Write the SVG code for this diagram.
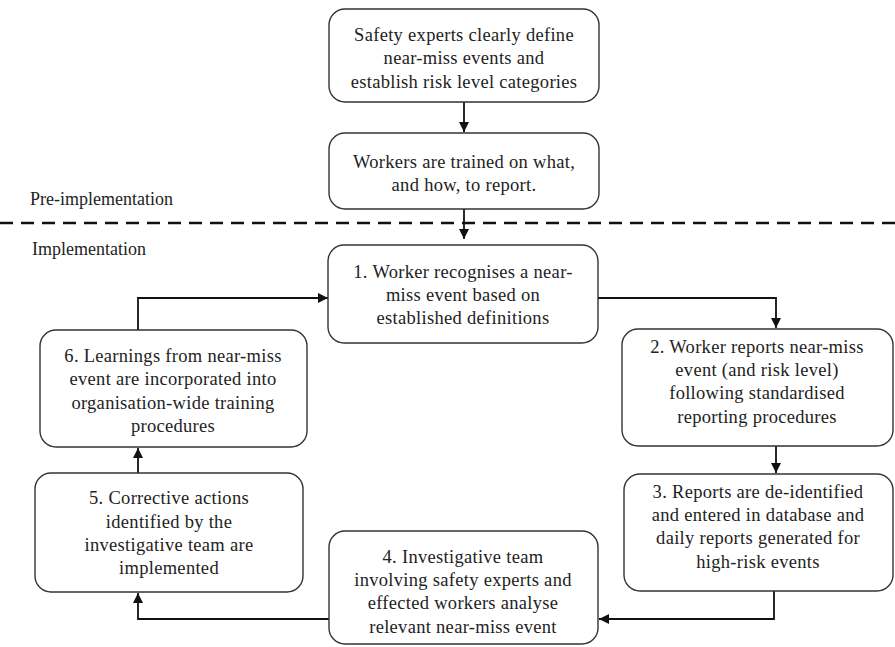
<svg xmlns="http://www.w3.org/2000/svg" width="895" height="647" viewBox="0 0 895 647">
<defs>
<style>
.box{fill:#fff;stroke:#333;stroke-width:1.4}
.t{font-family:"Liberation Serif","Times New Roman",serif;font-size:18.5px;letter-spacing:0.3px;fill:#222;text-anchor:middle}
.lbl{font-family:"Liberation Serif","Times New Roman",serif;font-size:18px;fill:#222}
.c{fill:none;stroke:#111;stroke-width:1.8}
</style>
<marker id="ah" viewBox="0 0 10 10" refX="10" refY="5" markerWidth="10" markerHeight="10" markerUnits="userSpaceOnUse" orient="auto">
<path d="M0,0 L10,5 L0,10 z" fill="#111"/>
</marker>
</defs>
<rect width="895" height="647" fill="#fff"/>
<line x1="0" y1="223" x2="895" y2="223" stroke="#111" stroke-width="2.5" stroke-dasharray="13 8"/>
<text class="lbl" x="30" y="205">Pre-implementation</text>
<text class="lbl" x="32" y="255">Implementation</text>
<g id="connectors">
<line class="c" x1="464" y1="102" x2="464" y2="132" marker-end="url(#ah)"/>
<line class="c" x1="464" y1="209" x2="464" y2="239" marker-end="url(#ah)"/>
<polyline class="c" points="598,298 776,298 776,328" marker-end="url(#ah)"/>
<line class="c" x1="776" y1="446" x2="776" y2="473" marker-end="url(#ah)"/>
<polyline class="c" points="774,591 774,619 599,619" marker-end="url(#ah)"/>
<polyline class="c" points="329,619 138,619 138,593" marker-end="url(#ah)"/>
<line class="c" x1="138" y1="473" x2="138" y2="448" marker-end="url(#ah)"/>
<polyline class="c" points="138,330 138,298 328,298" marker-end="url(#ah)"/>
</g>
<g id="nodeA">
<rect class="box" x="329" y="9" width="270" height="93" rx="16"/>
<text class="t" x="464" y="41">Safety experts clearly define</text>
<text class="t" x="464" y="64">near-miss events and</text>
<text class="t" x="464" y="88">establish risk level categories</text>
</g>
<g id="nodeB">
<rect class="box" x="329" y="133" width="270" height="76" rx="16"/>
<text class="t" x="464" y="168">Workers are trained on what,</text>
<text class="t" x="464" y="191">and how, to report.</text>
</g>
<g id="node1">
<rect class="box" x="328" y="245" width="270" height="98" rx="16"/>
<text class="t" x="463" y="278">1. Worker recognises a near-</text>
<text class="t" x="463" y="301">miss event based on</text>
<text class="t" x="463" y="324">established definitions</text>
</g>
<g id="node2">
<rect class="box" x="622" y="329" width="271" height="117" rx="16"/>
<text class="t" x="757" y="353">2. Worker reports near-miss</text>
<text class="t" x="757" y="376">event (and risk level)</text>
<text class="t" x="757" y="399">following standardised</text>
<text class="t" x="757" y="423">reporting procedures</text>
</g>
<g id="node3">
<rect class="box" x="624" y="474" width="269" height="117" rx="16"/>
<text class="t" x="758" y="498">3. Reports are de-identified</text>
<text class="t" x="758" y="521">and entered in database and</text>
<text class="t" x="758" y="544">daily reports generated for</text>
<text class="t" x="758" y="568">high-risk events</text>
</g>
<g id="node4">
<rect class="box" x="329" y="531" width="269" height="113" rx="16"/>
<text class="t" x="463" y="563">4. Investigative team</text>
<text class="t" x="463" y="586">involving safety experts and</text>
<text class="t" x="463" y="609">effected workers analyse</text>
<text class="t" x="463" y="633">relevant near-miss event</text>
</g>
<g id="node5">
<rect class="box" x="35" y="473" width="268" height="119" rx="16"/>
<text class="t" x="169" y="504">5. Corrective actions</text>
<text class="t" x="169" y="528">identified by the</text>
<text class="t" x="169" y="551">investigative team are</text>
<text class="t" x="169" y="574">implemented</text>
</g>
<g id="node6">
<rect class="box" x="40" y="330" width="267" height="117" rx="16"/>
<text class="t" x="173" y="362">6. Learnings from near-miss</text>
<text class="t" x="173" y="385">event are incorporated into</text>
<text class="t" x="173" y="409">organisation-wide training</text>
<text class="t" x="173" y="432">procedures</text>
</g>
</svg>
